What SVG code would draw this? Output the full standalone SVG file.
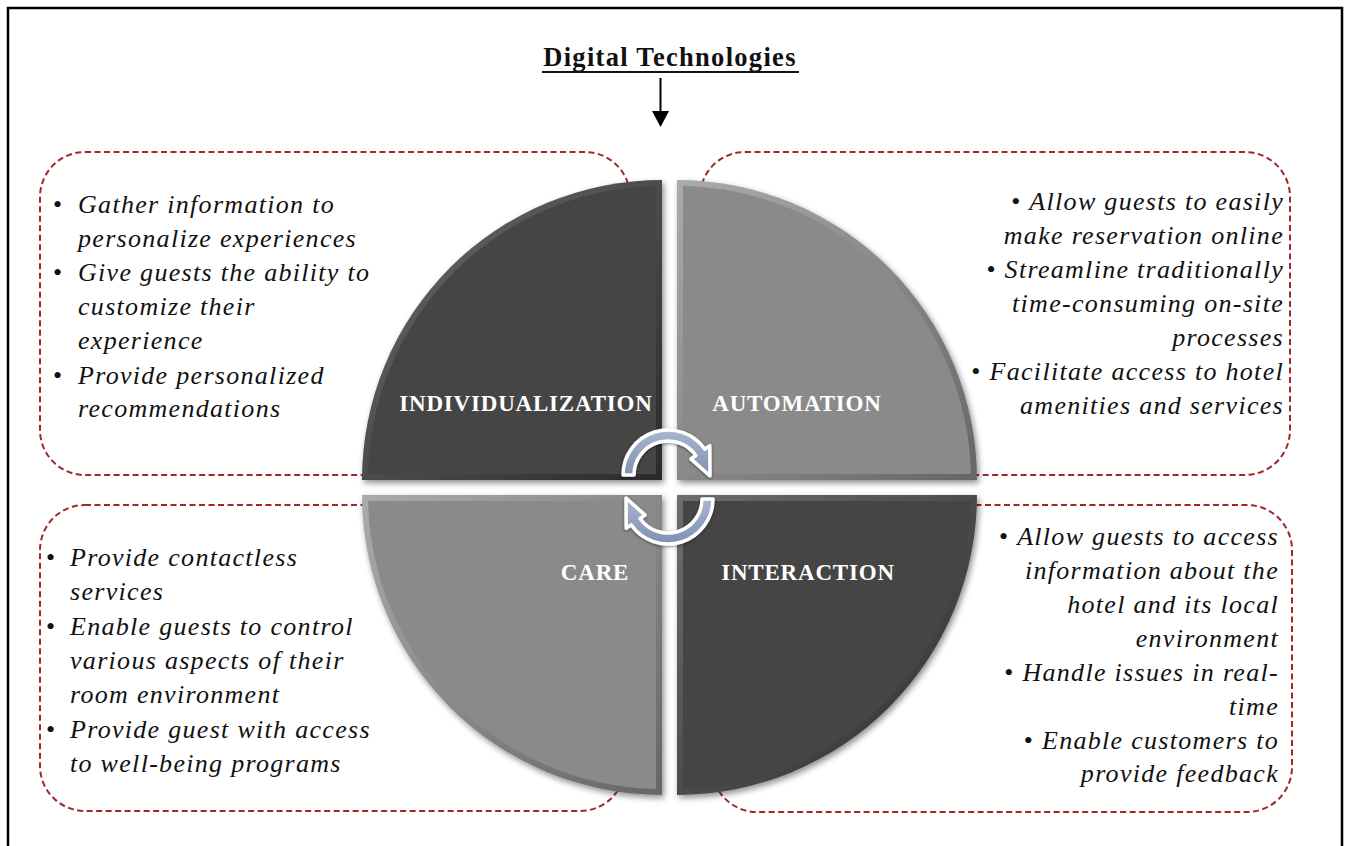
<svg xmlns="http://www.w3.org/2000/svg" width="1346" height="846" viewBox="0 0 1346 846">
<style>
.box{fill:none;stroke:#a0282b;stroke-width:2;stroke-dasharray:6 3.5}
.txt{font-family:"Liberation Serif","Times New Roman",serif;font-style:italic;font-size:26px;letter-spacing:1.3px;fill:#111}
.bul{font-family:"Liberation Serif","Times New Roman",serif;font-style:normal;font-size:26px;fill:#111}
.r{text-anchor:end}
.lbl{font-family:"Liberation Serif","Times New Roman",serif;font-weight:bold;font-size:23px;letter-spacing:0.8px;fill:#fff;text-anchor:middle}
.title{font-family:"Liberation Serif","Times New Roman",serif;font-weight:bold;font-size:26.5px;letter-spacing:1.3px;fill:#111;text-anchor:middle}
.cyc{fill:url(#cycg);stroke:#fff;stroke-width:3.5;stroke-linejoin:round;filter:url(#cshadow)}
</style>
<defs>
<linearGradient id="darkRim" x1="0" y1="0" x2="1" y2="1">
<stop offset="0" stop-color="#6e6e6e"/><stop offset="1" stop-color="#2a2a2a"/>
</linearGradient>
<linearGradient id="lightRim" x1="0" y1="0" x2="1" y2="1">
<stop offset="0" stop-color="#ababab"/><stop offset="1" stop-color="#666"/>
</linearGradient>
<linearGradient id="cycg" x1="0" y1="0" x2="0" y2="1">
<stop offset="0" stop-color="#a9b6cf"/><stop offset="1" stop-color="#7f90b2"/>
</linearGradient>
<filter id="shadow" x="-10%" y="-10%" width="125%" height="125%">
<feGaussianBlur in="SourceAlpha" stdDeviation="3"/>
<feOffset dx="2" dy="3" result="b"/>
<feComponentTransfer><feFuncA type="linear" slope="0.45"/></feComponentTransfer>
<feMerge><feMergeNode/><feMergeNode in="SourceGraphic"/></feMerge>
</filter>
<filter id="cshadow" x="-20%" y="-20%" width="140%" height="140%">
<feGaussianBlur in="SourceAlpha" stdDeviation="1.5"/>
<feOffset dx="0" dy="1" result="b"/>
<feComponentTransfer><feFuncA type="linear" slope="0.5"/></feComponentTransfer>
<feMerge><feMergeNode/><feMergeNode in="SourceGraphic"/></feMerge>
</filter>
</defs>

<rect x="8" y="8" width="1334" height="860" fill="#fff" stroke="#000" stroke-width="2.5"/>

<g id="title">
<text class="title" x="670" y="66">Digital Technologies</text>
<line x1="542" y1="72" x2="799" y2="72" stroke="#111" stroke-width="2"/>
</g>

<g id="connectors">
<line x1="660.5" y1="78" x2="660.5" y2="112" stroke="#000" stroke-width="2"/>
<polygon points="652,111 669,111 660.5,127" fill="#000"/>
</g>

<g id="boxes">
<rect id="box-tl" class="box" x="40" y="152" width="590" height="323" rx="45"/>
<rect id="box-tr" class="box" x="700" y="152" width="590" height="323" rx="45"/>
<rect id="box-bl" class="box" x="40" y="505" width="585" height="306" rx="45"/>
<rect id="box-br" class="box" x="712" y="505" width="580" height="307" rx="45"/>
</g>

<g id="individualization">
<path d="M662,480 L362,480 A300,300 0 0 1 662,180 Z" fill="url(#darkRim)" filter="url(#shadow)"/>
<path d="M656,474 L368.06,474 A294,294 0 0 1 656,186.06 Z" fill="#454545"/>
<text class="lbl" x="526" y="411">INDIVIDUALIZATION</text>
</g>
<g id="automation">
<path d="M677,480 L677,180 A300,300 0 0 1 977,480 Z" fill="url(#lightRim)" filter="url(#shadow)"/>
<path d="M683,474 L683,186.06 A294,294 0 0 1 970.94,474 Z" fill="#8a8a8a"/>
<text class="lbl" x="797" y="411">AUTOMATION</text>
</g>
<g id="care">
<path d="M662,495 L662,795 A300,300 0 0 1 362,495 Z" fill="url(#lightRim)" filter="url(#shadow)"/>
<path d="M656,501 L656,788.94 A294,294 0 0 1 368.06,501 Z" fill="#8a8a8a"/>
<text class="lbl" x="595" y="580">CARE</text>
</g>
<g id="interaction">
<path d="M677,495 L977,495 A300,300 0 0 1 677,795 Z" fill="url(#darkRim)" filter="url(#shadow)"/>
<path d="M683,501 L970.94,501 A294,294 0 0 1 683,788.94 Z" fill="#454545"/>
<text class="lbl" x="808" y="580">INTERACTION</text>
</g>

<g id="cycle">
<path class="cyc" d="M623,475 A45,45 0 0 1 704.9,449.2 L709.8,445.7 L710,476 L690.9,458.9 L695.9,455.5 A34,34 0 0 0 634,475 Z"/>
<path class="cyc" d="M713,499 A45,45 0 0 1 631.1,524.8 L626.2,528.3 L626,498 L645.1,515.1 L640.1,518.5 A34,34 0 0 0 702,499 Z"/>
</g>

<g id="text-tl">
<text class="bul" x="53" y="213">•</text>
<text class="bul" x="53" y="281">•</text>
<text class="bul" x="53" y="384">•</text>
<text class="txt" x="78" y="213">Gather information to</text>
<text class="txt" x="78" y="247">personalize experiences</text>
<text class="txt" x="78" y="281">Give guests the ability to</text>
<text class="txt" x="78" y="315">customize their</text>
<text class="txt" x="78" y="349">experience</text>
<text class="txt" x="78" y="384">Provide personalized</text>
<text class="txt" x="78" y="417">recommendations</text>
</g>

<g id="text-tr">
<text class="txt r" x="1284" y="210"><tspan class="bul">• </tspan>Allow guests to easily</text>
<text class="txt r" x="1284" y="244">make reservation online</text>
<text class="txt r" x="1284" y="278"><tspan class="bul">• </tspan>Streamline traditionally</text>
<text class="txt r" x="1284" y="312">time-consuming on-site</text>
<text class="txt r" x="1284" y="346">processes</text>
<text class="txt r" x="1284" y="380"><tspan class="bul">• </tspan>Facilitate access to hotel</text>
<text class="txt r" x="1284" y="414">amenities and services</text>
</g>

<g id="text-bl">
<text class="bul" x="46" y="566">•</text>
<text class="bul" x="46" y="635">•</text>
<text class="bul" x="46" y="738">•</text>
<text class="txt" x="70" y="566">Provide contactless</text>
<text class="txt" x="70" y="600">services</text>
<text class="txt" x="70" y="635">Enable guests to control</text>
<text class="txt" x="70" y="669">various aspects of their</text>
<text class="txt" x="70" y="703">room environment</text>
<text class="txt" x="70" y="738">Provide guest with access</text>
<text class="txt" x="70" y="772">to well-being programs</text>
</g>

<g id="text-br">
<text class="txt r" x="1279" y="545"><tspan class="bul">• </tspan>Allow guests to access</text>
<text class="txt r" x="1279" y="579">information about the</text>
<text class="txt r" x="1279" y="613">hotel and its local</text>
<text class="txt r" x="1279" y="647">environment</text>
<text class="txt r" x="1279" y="681"><tspan class="bul">• </tspan>Handle issues in real-</text>
<text class="txt r" x="1279" y="715">time</text>
<text class="txt r" x="1279" y="749"><tspan class="bul">• </tspan>Enable customers to</text>
<text class="txt r" x="1279" y="782">provide feedback</text>
</g>
</svg>
